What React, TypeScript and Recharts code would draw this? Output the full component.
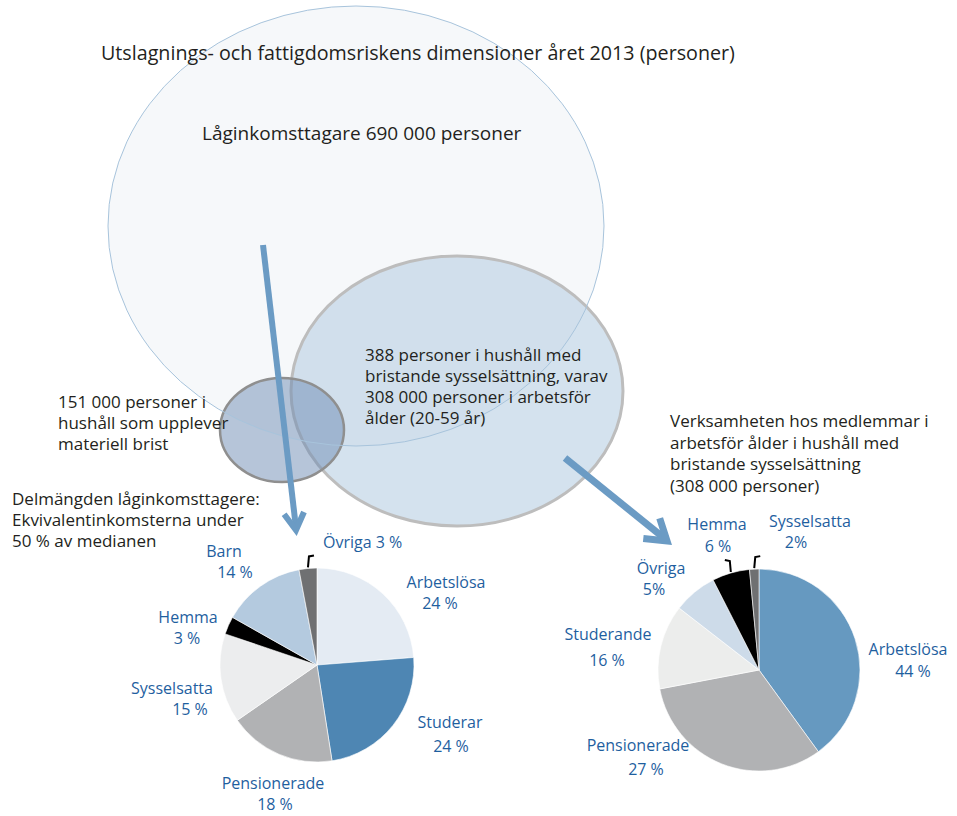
import { Cell, Pie, PieChart } from 'recharts';

// Vänster cirkel: delmängden låginkomsttagare
const LEFT_NAMES = ['Arbetslösa', 'Studerar', 'Pensionerade', 'Sysselsatta', 'Hemma', 'Barn', 'Övriga'];
const LEFT_VALUES = [24, 24, 18, 15, 3, 14, 3];
const LEFT_PCT = ['24 %', '24 %', '18 %', '15 %', '3 %', '14 %', '3 %'];

// Höger cirkel: verksamheten i hushåll med bristande sysselsättning
// (sektorernas storlek; etiketterna som de står)
const RIGHT_NAMES = ['Arbetslösa', 'Pensionerade', 'Studerande', 'Övriga', 'Hemma', 'Sysselsatta'];
const RIGHT_VALUES = [40, 32, 13.5, 7, 6, 1.5];
const RIGHT_PCT = ['44 %', '27 %', '16 %', '5%', '6 %', '2%'];

const LEFT_COLORS = ['#e4ebf3', '#4e86b3', '#b1b2b4', '#ecedee', '#000000', '#b4cadf', '#6f7072'];
const RIGHT_COLORS = ['#6699c0', '#b1b2b4', '#ecedec', '#cddbe9', '#000000', '#6f7072'];

const FONT = "'Open Sans', sans-serif";
const LABEL_BLUE = '#1f5f9f';
const TEXT = '#231f20';
const ARROW = '#6b9bc4';

// x = mitt för namnet, y = baslinje; px = mitt för procenttalet, dy = radavstånd
type LabelPos = { x: number; y: number; px?: number; dy?: number; one?: boolean; hook?: number };

const LEFT_LABELS: Record<string, LabelPos> = {
  Arbetslösa: { x: 446, y: 588, px: 440, dy: 21 },
  Studerar: { x: 450, y: 728, px: 451, dy: 24 },
  Pensionerade: { x: 273, y: 789, px: 275, dy: 21 },
  Sysselsatta: { x: 172, y: 694, px: 190, dy: 21 },
  Hemma: { x: 188, y: 623, px: 187, dy: 21 },
  Barn: { x: 224, y: 557, px: 235, dy: 21 },
  Övriga: { x: 323, y: 548, one: true, hook: 1 },
};
const RIGHT_LABELS: Record<string, LabelPos> = {
  Arbetslösa: { x: 908, y: 655, px: 913, dy: 22 },
  Pensionerade: { x: 638, y: 751, px: 646, dy: 24 },
  Studerande: { x: 608, y: 640, px: 607, dy: 26 },
  Övriga: { x: 661, y: 574, px: 654, dy: 21 },
  Hemma: { x: 717, y: 530, px: 718, dy: 22, hook: -1 },
  Sysselsatta: { x: 810, y: 527, px: 796, dy: 21, hook: 1 },
};

const RADIAN = Math.PI / 180;

function makeLabel(layout: Record<string, LabelPos>, pcts: string[]) {
  return (p: any) => {
    const pos = layout[p.name];
    if (!pos) return null;
    const pct = pcts[p.index];
    let hook = null;
    if (pos.hook) {
      const x0 = p.cx + p.outerRadius * Math.cos(-p.midAngle * RADIAN);
      const y0 = p.cy + p.outerRadius * Math.sin(-p.midAngle * RADIAN);
      hook = (
        <path
          d={`M${x0},${y0 - 1} L${x0 + pos.hook},${y0 - 12} L${x0 + pos.hook * 6},${y0 - 13}`}
          fill="none"
          stroke="#000"
          strokeWidth={2}
        />
      );
    }
    return (
      <g key={`lbl-${p.index}`}>
        {hook}
        <text
          x={pos.x}
          y={pos.y}
          textAnchor={pos.one ? 'start' : 'middle'}
          fill={LABEL_BLUE}
          fontFamily={FONT}
          fontSize={16}
        >
          {pos.one ? (
            `${p.name} ${pct}`
          ) : (
            <>
              <tspan x={pos.x} y={pos.y}>
                {p.name}
              </tspan>
              <tspan x={pos.px ?? pos.x} y={pos.y + (pos.dy ?? 21)}>
                {pct}
              </tspan>
            </>
          )}
        </text>
      </g>
    );
  };
}

function arrowHead(x1: number, y1: number, x2: number, y2: number, len: number, spread: number) {
  const dx = x2 - x1;
  const dy = y2 - y1;
  const d = Math.hypot(dx, dy);
  const ux = dx / d;
  const uy = dy / d;
  const bx = x2 - ux * len;
  const by = y2 - uy * len;
  return `M${bx - uy * spread},${by + ux * spread} L${x2},${y2} L${bx + uy * spread},${by - ux * spread}`;
}

function Lines({ x, y, lines, gap = 21 }: { x: number; y: number; lines: string[]; gap?: number }) {
  return (
    <text x={x} y={y} fill={TEXT} fontFamily={FONT} fontSize={17}>
      {lines.map((l, i) => (
        <tspan key={i} x={x} dy={i === 0 ? 0 : gap}>
          {l}
        </tspan>
      ))}
    </text>
  );
}

export default function App() {
  const leftData = LEFT_NAMES.map((name, i) => ({ name, value: LEFT_VALUES[i] }));
  const rightData = RIGHT_NAMES.map((name, i) => ({ name, value: RIGHT_VALUES[i] }));

  return (
    <div style={{ position: 'relative', width: 957, height: 816, background: '#fff' }}>
      <style>{'body{margin:0}'}</style>
      <svg width={957} height={816} style={{ position: 'absolute', left: 0, top: 0 }}>
        <ellipse cx={356} cy={226} rx={248} ry={220} fill="#f6f8fa" />
        <ellipse cx={457} cy={391} rx={166} ry={135} fill="rgba(185,208,228,0.62)" stroke="#bdbdbd" strokeWidth={3} />
        <ellipse cx={282} cy={430} rx={62} ry={52} fill="rgba(110,140,180,0.5)" stroke="#8f8f8f" strokeWidth={2.5} />
        <ellipse cx={356} cy={226} rx={248} ry={220} fill="none" stroke="#a8c4dc" strokeWidth={1} />

        <text x={101} y={60} fill={TEXT} fontFamily={FONT} fontSize={19.7}>
          Utslagnings- och fattigdomsriskens dimensioner året 2013 (personer)
        </text>
        <text x={202} y={140} fill={TEXT} fontFamily={FONT} fontSize={19}>
          Låginkomsttagare 690 000 personer
        </text>
        <Lines
          x={365}
          y={361}
          gap={21}
          lines={['388 personer i hushåll med', 'bristande sysselsättning, varav', '308 000 personer i arbetsför', 'ålder (20-59 år)']}
        />
        <Lines x={58} y={408} lines={['151 000 personer i', 'hushåll som upplever', 'materiell brist']} />
        <Lines x={12} y={505} gap={21} lines={['Delmängden låginkomsttagere:', 'Ekvivalentinkomsterna under', '50 % av medianen']} />
        <Lines
          x={670}
          y={427}
          gap={21.7}
          lines={['Verksamheten hos medlemmar i', 'arbetsför ålder i hushåll med', 'bristande sysselsättning', '(308 000 personer)']}
        />

        <line x1={263} y1={245} x2={296} y2={528} stroke={ARROW} strokeWidth={6} />
        <path d={arrowHead(263, 245, 296, 530, 17, 10)} fill="none" stroke={ARROW} strokeWidth={6} />
        <line x1={565} y1={458} x2={664} y2={538} stroke={ARROW} strokeWidth={7} />
        <path d={arrowHead(565, 458, 667, 541, 20, 13)} fill="none" stroke={ARROW} strokeWidth={7} />
      </svg>

      <div style={{ position: 'absolute', left: 0, top: 0 }}>
        <PieChart width={957} height={816} margin={{ top: 0, right: 0, bottom: 0, left: 0 }}>
          <Pie
            data={leftData}
            dataKey="value"
            nameKey="name"
            cx={317}
            cy={665}
            outerRadius={97}
            startAngle={90}
            endAngle={-270}
            stroke="#ffffff"
            strokeWidth={0.6}
            label={makeLabel(LEFT_LABELS, LEFT_PCT)}
            labelLine={false}
            isAnimationActive={false}
          >
            {leftData.map((d, i) => (
              <Cell key={d.name} fill={LEFT_COLORS[i]} />
            ))}
          </Pie>
          <Pie
            data={rightData}
            dataKey="value"
            nameKey="name"
            cx={759}
            cy={670}
            outerRadius={101}
            startAngle={90}
            endAngle={-270}
            stroke="#ffffff"
            strokeWidth={0.6}
            label={makeLabel(RIGHT_LABELS, RIGHT_PCT)}
            labelLine={false}
            isAnimationActive={false}
          >
            {rightData.map((d, i) => (
              <Cell key={d.name} fill={RIGHT_COLORS[i]} />
            ))}
          </Pie>
        </PieChart>
      </div>
    </div>
  );
}
